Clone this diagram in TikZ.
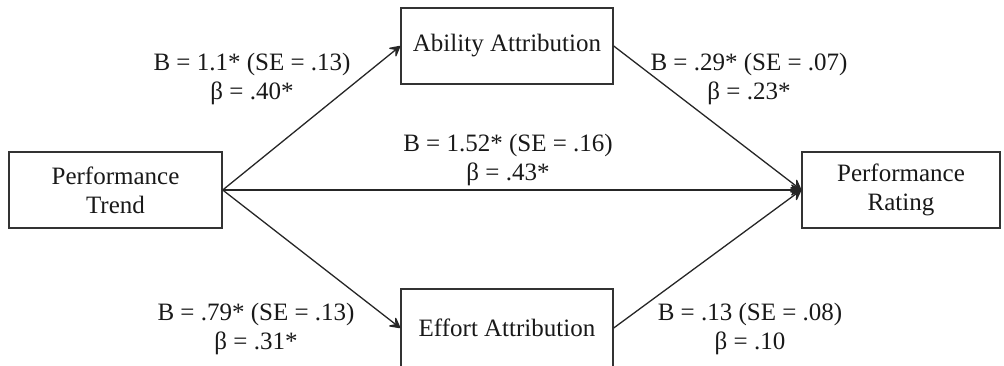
\documentclass[tikz,border=0pt]{standalone}
\usepackage{fontspec}
\setmainfont{Liberation Serif}
\usetikzlibrary{arrows.meta}
\begin{document}
\begin{tikzpicture}[x=1pt,y=-1pt,
  box/.style={draw=black!80,line width=1.4pt,fill=white,minimum height=76pt,
    align=center,font=\fontsize{25}{29}\selectfont,inner sep=0pt,text=black!90},
  lab/.style={align=center,font=\fontsize{25}{29}\selectfont,inner sep=0pt,text=black!90},
  arr/.style={draw=black!85,line width=1.3pt,-{Stealth[length=13pt,width=14pt,inset=6pt,round]}}]
\useasboundingbox (0,0) rectangle (1004,366);
\node[box,minimum width=213pt] (pt) at (115.5,190) {Performance\\Trend};
\node[box,minimum width=212pt] (ab) at (507,46) {Ability Attribution};
\node[box,minimum width=212pt,minimum height=78pt] (ef) at (507,328) {Effort Attribution};
\node[box,minimum width=198pt] (pr) at (901,190) {Performance\\Rating};
\draw[arr] (pt.east) -- (ab.west);
\draw[arr] (pt.east) -- (pr.west);
\draw[arr] (pt.east) -- (ef.west);
\draw[arr] (ab.east) -- (pr.west);
\draw[arr] (ef.east) -- (pr.west);
\node[lab] (l1) at (252,79) {B = 1.1* (SE = .13)\\β = .40*};
\node[lab] (l2) at (749,79) {B = .29* (SE = .07)\\β = .23*};
\node[lab] (l3) at (508,160) {B = 1.52* (SE = .16)\\β = .43*};
\node[lab] (l4) at (256,329) {B = .79* (SE = .13)\\β = .31*};
\node[lab] (l5) at (750,329) {B = .13 (SE = .08)\\β = .10};
\end{tikzpicture}
\end{document}
